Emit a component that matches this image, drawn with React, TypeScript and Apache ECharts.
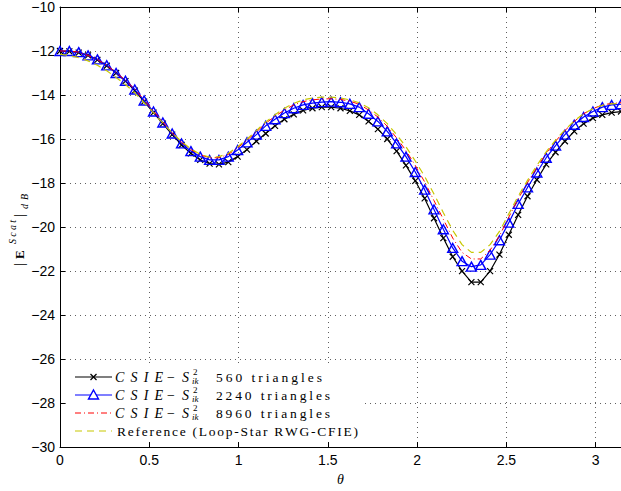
import React, { useEffect, useRef } from "react";
import * as echarts from "echarts";

// Sampling grid: 61 angles from 0 to π (step π/60)
const SAMPLES = 61;
const theta: number[] = Array.from({ length: SAMPLES }, (_, i) => (i * Math.PI) / (SAMPLES - 1));

const csie560 = [
  -12.0, -12.02, -12.07, -12.2, -12.4, -12.67, -13.0, -13.37, -13.8, -14.3,
  -14.8, -15.3, -15.8, -16.27, -16.65, -16.95, -17.12, -17.15, -17.05, -16.8,
  -16.48, -16.1, -15.75, -15.4, -15.1, -14.88, -14.7, -14.6, -14.55, -14.55,
  -14.6, -14.72, -14.9, -15.2, -15.55, -16.0, -16.55, -17.2, -17.9, -18.7,
  -19.6, -20.5, -21.35, -22.0, -22.5, -22.5, -22.0, -21.25, -20.35, -19.45,
  -18.6, -17.85, -17.15, -16.6, -16.1, -15.65, -15.3, -15.05, -14.9, -14.8,
  -14.75,
];
const csie2240 = [
  -12.0, -12.0, -12.05, -12.2, -12.38, -12.65, -13.0, -13.35, -13.75, -14.25,
  -14.75, -15.25, -15.75, -16.2, -16.55, -16.8, -16.95, -16.95, -16.8, -16.5,
  -16.15, -15.8, -15.4, -15.1, -14.82, -14.6, -14.45, -14.37, -14.32, -14.3,
  -14.33, -14.4, -14.55, -14.85, -15.2, -15.65, -16.2, -16.8, -17.5, -18.3,
  -19.2, -20.1, -20.95, -21.55, -21.8, -21.72, -21.25, -20.6, -19.8, -18.95,
  -18.2, -17.52, -16.85, -16.3, -15.8, -15.35, -15.0, -14.75, -14.55, -14.45,
  -14.42,
];
const csie8960 = [
  -12.0, -12.0, -12.05, -12.2, -12.38, -12.65, -12.98, -13.33, -13.73, -14.22,
  -14.72, -15.22, -15.72, -16.15, -16.48, -16.72, -16.85, -16.85, -16.7, -16.4,
  -16.05, -15.68, -15.28, -14.97, -14.68, -14.45, -14.3, -14.22, -14.18, -14.17,
  -14.2, -14.28, -14.42, -14.68, -15.0, -15.42, -15.95, -16.52, -17.2, -17.95,
  -18.8, -19.65, -20.5, -21.15, -21.45, -21.45, -21.05, -20.4, -19.55, -18.72,
  -17.98, -17.3, -16.65, -16.1, -15.62, -15.2, -14.85, -14.62, -14.45, -14.38,
  -14.35,
];
const referenceRWG = [
  -12.15, -12.2, -12.3, -12.45, -12.65, -12.9, -13.2, -13.52, -13.9, -14.35,
  -14.8, -15.27, -15.72, -16.12, -16.45, -16.7, -16.82, -16.8, -16.65, -16.35,
  -16.0, -15.62, -15.22, -14.9, -14.6, -14.38, -14.22, -14.14, -14.1, -14.1,
  -14.14, -14.22, -14.35, -14.58, -14.9, -15.3, -15.8, -16.35, -17.0, -17.7,
  -18.5, -19.35, -20.15, -20.8, -21.15, -21.15, -20.8, -20.2, -19.4, -18.6,
  -17.88, -17.2, -16.58, -16.05, -15.58, -15.18, -14.85, -14.62, -14.47, -14.4,
  -14.38,
];

const seriesNames = ["560", "2240", "8960"];
const refName = "Reference (Loop-Star RWG-CFIE)";
const xMin = 0;
const xMax = Math.PI;
const xStep = 0.5;
const yMin = -30;
const yMax = -10;
const yStep = 2;

const SERIF = '"Liberation Serif", "DejaVu Serif", serif';
const SANS = '"Liberation Sans", Arial, sans-serif';

const measureCtx: CanvasRenderingContext2D | null =
  typeof document !== "undefined" ? document.createElement("canvas").getContext("2d") : null;

function spaced(str: string, x0: number, x1: number, y: number, font: string, z = 101): any[] {
  const chars = Array.from(str);
  let widths = chars.map(() => 6);
  if (measureCtx) {
    measureCtx.font = font;
    widths = chars.map((c) => measureCtx.measureText(c).width);
  }
  const total = widths.reduce((a, b) => a + b, 0);
  const gap = chars.length > 1 ? (x1 - x0 - total) / (chars.length - 1) : 0;
  let x = x0;
  const out: any[] = [];
  chars.forEach((c, i) => {
    if (c !== " ") {
      out.push({
        type: "text",
        x,
        y,
        z,
        silent: true,
        style: { text: c, font, fill: "#000", textVerticalAlign: "middle", textAlign: "left" },
      });
    }
    x += widths[i] + gap;
  });
  return out;
}

function fmtNum(v: number): string {
  const r = Math.round(v * 100) / 100;
  if (Math.abs(r - v) > 1e-6) return "";
  return r < 0 ? "\u2212" + Math.abs(r) : String(r);
}

export default function App() {
  const ref = useRef<HTMLDivElement>(null);

  useEffect(() => {
    if (!ref.current) return;
    const chart = echarts.init(ref.current, undefined, { renderer: "svg" });

    const toData = (arr: number[]) => theta.map((t, i) => [t, arr[i]]);

    const legendRows = [377, 395, 413, 431];
    const lx0 = 75;
    const lx1 = 112;
    const lmid = (lx0 + lx1) / 2;
    const gfx: any[] = [];
    gfx.push({
      type: "rect",
      z: 100,
      silent: true,
      shape: { x: 67, y: 364, width: 298, height: 78 },
      style: { fill: "#fff" },
    });
    const lineSample = (y: number, color: string, dash: any, width: number) => ({
      type: "line",
      z: 101,
      silent: true,
      shape: { x1: lx0, y1: y, x2: lx1, y2: y },
      style: { stroke: color, lineWidth: width, lineDash: dash },
    });
    gfx.push(lineSample(legendRows[0], "#000", null, 1.2));
    gfx.push({ type: "line", z: 102, silent: true, shape: { x1: lmid - 3, y1: legendRows[0] - 3, x2: lmid + 3, y2: legendRows[0] + 3 }, style: { stroke: "#000", lineWidth: 1.2 } });
    gfx.push({ type: "line", z: 102, silent: true, shape: { x1: lmid - 3, y1: legendRows[0] + 3, x2: lmid + 3, y2: legendRows[0] - 3 }, style: { stroke: "#000", lineWidth: 1.2 } });
    gfx.push(lineSample(legendRows[1], "#0000ff", null, 1.2));
    gfx.push({
      type: "polygon",
      z: 102,
      silent: true,
      shape: { points: [[lmid, legendRows[1] - 5], [lmid + 5, legendRows[1] + 4], [lmid - 5, legendRows[1] + 4]] },
      style: { fill: "#fff", stroke: "#0000ff", lineWidth: 1.4 },
    });
    gfx.push(lineSample(legendRows[2], "#ff0000", [6, 3, 1, 3], 1));
    gfx.push(lineSample(legendRows[3], "#c8c800", [7, 5], 1.2));

    const mathI = `italic 14px ${SERIF}`;
    const up = `13.5px ${SERIF}`;
    const small = `9px ${SERIF}`;
    const smallI = `italic 9px ${SERIF}`;
    seriesNames.forEach((n, k) => {
      const y = legendRows[k];
      gfx.push(...spaced("CSIE", 115, 163, y, mathI));
      gfx.push({ type: "text", x: 167, y, z: 101, silent: true, style: { text: "\u2212", font: `14px ${SERIF}`, fill: "#000", textVerticalAlign: "middle" } });
      gfx.push({ type: "text", x: 182, y, z: 101, silent: true, style: { text: "S", font: mathI, fill: "#000", textVerticalAlign: "middle" } });
      gfx.push({ type: "text", x: 193, y: y - 5, z: 101, silent: true, style: { text: "2", font: small, fill: "#000", textVerticalAlign: "middle" } });
      gfx.push({ type: "text", x: 192, y: y + 4, z: 101, silent: true, style: { text: "ik", font: smallI, fill: "#000", textVerticalAlign: "middle" } });
      const label = `${n} triangles`;
      gfx.push(...spaced(label, 216, n.length === 3 ? 322 : 330, y, up));
    });
    gfx.push(...spaced(refName, 117, 358, legendRows[3], up));

    // y-axis label |E^{Scat}|_{dB}, rotated
    gfx.push({
      type: "group",
      x: 19,
      y: 266,
      rotation: Math.PI / 2,
      silent: true,
      children: [
        { type: "text", x: 0, y: 0, style: { text: "|", font: `14px ${SERIF}`, fill: "#000", textVerticalAlign: "middle" } },
        { type: "text", x: 7, y: 0, style: { text: "E", font: `bold 13px ${SERIF}`, fill: "#000", textVerticalAlign: "middle" } },
        ...spaced("Scat", 22, 46, -7, `italic 10px ${SERIF}`, 1),
        { type: "text", x: 49, y: 0, style: { text: "|", font: `14px ${SERIF}`, fill: "#000", textVerticalAlign: "middle" } },
        ...spaced("dB", 57, 72, 5, `italic 10px ${SERIF}`, 1),
      ],
    });

    const axisCommon = {
      type: "value" as const,
      axisLine: { show: true, onZero: false, lineStyle: { color: "#000", width: 1 } },
      axisTick: { show: true, inside: true, length: 5, lineStyle: { color: "#000", width: 1 } },
      splitLine: { show: true, lineStyle: { color: "#606060", width: 1, type: [1, 4] } },
    };

    chart.setOption({
      animation: false,
      backgroundColor: "#fff",
      grid: { left: 60, top: 4, width: (xMax - xMin) * 180, height: 444.4, containLabel: false },
      xAxis: [
        {
          ...axisCommon,
          position: "bottom",
          min: xMin,
          max: xMax,
          interval: xStep,
          name: "\u03b8",
          nameLocation: "middle",
          nameGap: 24,
          nameTextStyle: { fontFamily: SERIF, fontStyle: "italic", fontSize: 14, color: "#000" },
          axisLabel: { color: "#000", fontFamily: SANS, fontSize: 14, margin: 6, showMaxLabel: false, formatter: (v: number) => fmtNum(v) },
        },
        {
          ...axisCommon,
          position: "top",
          min: xMin,
          max: xMax,
          interval: xStep,
          axisLabel: { show: false },
          splitLine: { show: false },
        },
      ],
      yAxis: [
        {
          ...axisCommon,
          position: "left",
          min: yMin,
          max: yMax,
          interval: yStep,
          axisLabel: { color: "#000", fontFamily: SANS, fontSize: 14, margin: 5, formatter: (v: number) => fmtNum(v) },
        },
      ],
      graphic: gfx,
      series: [
        {
          name: "CSIE 560",
          type: "line",
          data: toData(csie560),
          symbol: "path://M0,0L10,10M10,0L0,10",
          symbolSize: 6,
          showAllSymbol: true,
          itemStyle: { color: "none", borderColor: "#000", borderWidth: 1.2 },
          lineStyle: { color: "#000", width: 1.2 },
          emphasis: { disabled: true },
          z: 2,
        },
        {
          name: "CSIE 2240",
          type: "line",
          data: toData(csie2240),
          symbol: "triangle",
          symbolSize: [10, 9],
          showAllSymbol: true,
          itemStyle: { color: "none", borderColor: "#0000ff", borderWidth: 1.4 },
          lineStyle: { color: "#0000ff", width: 1.2 },
          emphasis: { disabled: true },
          z: 3,
        },
        {
          name: "CSIE 8960",
          type: "line",
          data: toData(csie8960),
          symbol: "none",
          lineStyle: { color: "#ff0000", width: 1, type: [6, 3, 1, 3] },
          emphasis: { disabled: true },
          z: 4,
        },
        {
          name: refName,
          type: "line",
          data: toData(referenceRWG),
          symbol: "none",
          lineStyle: { color: "#c8c800", width: 1.2, type: [7, 5] },
          emphasis: { disabled: true },
          z: 5,
        },
      ],
    });

    return () => chart.dispose();
  }, []);

  return (
    <div
      ref={ref}
      style={{ position: "fixed", left: 0, top: 0, width: 621, height: 491, background: "#fff" }}
    />
  );
}
